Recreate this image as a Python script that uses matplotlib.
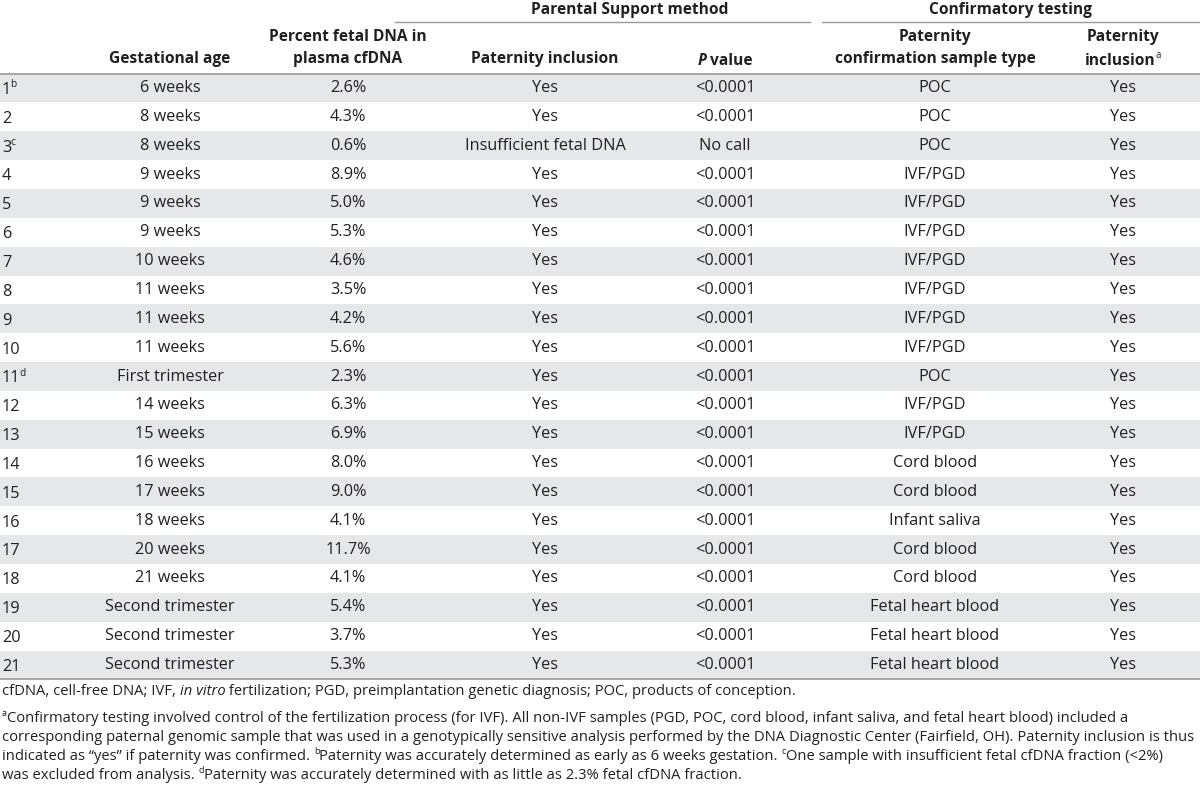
import matplotlib
matplotlib.use("Agg")
import matplotlib.pyplot as plt
from matplotlib.patches import Rectangle

plt.rcParams['font.family'] = ['Open Sans', 'DejaVu Sans']

case_ids = ["1", "2", "3", "4", "5", "6", "7", "8", "9", "10", "11", "12", "13", "14",
            "15", "16", "17", "18", "19", "20", "21"]
case_sup = {"1": "b", "3": "c", "11": "d"}
gest_age = ["6 weeks", "8 weeks", "8 weeks", "9 weeks", "9 weeks", "9 weeks", "10 weeks",
            "11 weeks", "11 weeks", "11 weeks", "First trimester", "14 weeks", "15 weeks",
            "16 weeks", "17 weeks", "18 weeks", "20 weeks", "21 weeks", "Second trimester",
            "Second trimester", "Second trimester"]
fetal_pct = [2.6, 4.3, 0.6, 8.9, 5.0, 5.3, 4.6, 3.5, 4.2, 5.6, 2.3, 6.3, 6.9, 8.0, 9.0,
             4.1, 11.7, 4.1, 5.4, 3.7, 5.3]
ps_inclusion = ["Yes", "Yes", "Insufficient fetal DNA"] + ["Yes"] * 18
p_values = ["<0.0001", "<0.0001", "No call"] + ["<0.0001"] * 18
sample_type = ["POC", "POC", "POC", "IVF/PGD", "IVF/PGD", "IVF/PGD", "IVF/PGD", "IVF/PGD",
               "IVF/PGD", "IVF/PGD", "POC", "IVF/PGD", "IVF/PGD", "Cord blood", "Cord blood",
               "Infant saliva", "Cord blood", "Cord blood", "Fetal heart blood",
               "Fetal heart blood", "Fetal heart blood"]
conf_inclusion = ["Yes"] * 21

W, H = 1200, 789
fig = plt.figure(figsize=(W / 100, H / 100), dpi=100)
ax = fig.add_axes([0, 0, 1, 1])
ax.set_xlim(0, W)
ax.set_ylim(H, 0)
ax.axis('off')
renderer = fig.canvas.get_renderer()

FS = 11.7
HFS = 11.2
FFS = 10.6
txt = '#231f20'
shade = '#e6e7e8'
linec = '#9a9a9a'
PX = 100 / 72.0


def ink_width(s, **kw):
    t = ax.text(0, 0, s, **kw)
    w = t.get_window_extent(renderer).width
    t.remove()
    return w


def measure(s, **kw):
    return ink_width(s + "|", **kw) - ink_width("|", **kw)


def pieces_text(x, y, pieces, fs, ha='left', weight='normal'):
    """pieces: list of (string, kind) with kind in 'n', 'i', 'sup'."""
    specs = []
    for k, (s, kind) in enumerate(pieces):
        kw = dict(color=txt, va='baseline', ha='left', fontweight=weight)
        dyy = 0.0
        if kind == 'sup':
            kw['fontsize'] = fs * 0.62
            kw['fontweight'] = 'normal'
            dyy = -fs * 0.42 * PX
        else:
            kw['fontsize'] = fs
            if kind == 'i':
                kw['fontstyle'] = 'italic'
        w = measure(s, **kw)
        nxt_sup = k + 1 < len(pieces) and pieces[k + 1][1] == 'sup'
        if nxt_sup and s[-1].isdigit():
            w -= 0.07 * fs * PX
        specs.append((s, kw, dyy, w))
    total = sum(sp[3] for sp in specs)
    cx = x - total / 2 if ha == 'center' else x
    for s, kw, dyy, w in specs:
        ax.text(cx, y + dyy, s, **kw)
        cx += w


row0 = 88.0
dy = 28.85
n = len(case_ids)
base_off = FS * PX * 0.36  # baseline offset from row center

for i in range(n):
    yc = row0 + i * dy
    if i % 2 == 0:
        ax.add_patch(Rectangle((0, yc - dy / 2), W, dy, color=shade, lw=0, zorder=0))

ax.plot([0, W], [row0 - dy / 2, row0 - dy / 2], color=linec, lw=1.2)
ax.plot([0, W], [row0 + (n - 0.5) * dy, row0 + (n - 0.5) * dy], color=linec, lw=1.2)
ax.plot([395, 810], [22, 22], color=linec, lw=1.0)
ax.plot([822, W], [22, 22], color=linec, lw=1.0)

hk = dict(fontsize=HFS, fontweight='bold', color=txt, ha='center', va='center')
ax.text(630, 10, "Parental Support method", **hk)
ax.text(1010, 10, "Confirmatory testing", **hk)
ax.text(170, 59, "Gestational age", **hk)
ax.text(348, 37, "Percent fetal DNA in", **hk)
ax.text(348, 59, "plasma cfDNA", **hk)
ax.text(545, 59, "Paternity inclusion", **hk)
ax.text(935, 37, "Paternity", **hk)
ax.text(935, 59, "confirmation sample type", **hk)
ax.text(1123, 37, "Paternity", **hk)
hb = 59 + HFS * PX * 0.36
pieces_text(725, hb, [("P", 'i'), (" value", 'n')], HFS, ha='center', weight='bold')
pieces_text(1123, hb, [("inclusion", 'n'), ("a", 'sup')], HFS, ha='center', weight='bold')

ck = dict(fontsize=FS, color=txt, va='center')
for i in range(n):
    yc = row0 + i * dy
    cid = case_ids[i]
    pcs = [(cid, 'n')]
    if cid in case_sup:
        pcs.append((case_sup[cid], 'sup'))
    pieces_text(2, yc + base_off, pcs, FS)
    ax.text(170, yc, gest_age[i], ha='center', **ck)
    ax.text(348, yc, "%.1f%%" % fetal_pct[i], ha='center', **ck)
    ax.text(545, yc, ps_inclusion[i], ha='center', **ck)
    ax.text(725, yc, p_values[i], ha='center', **ck)
    ax.text(935, yc, sample_type[i], ha='center', **ck)
    ax.text(1123, yc, conf_inclusion[i], ha='center', **ck)

fb = FFS * PX * 0.36
pieces_text(2, 690 + fb, [("cfDNA, cell-free DNA; IVF, ", 'n'), ("in vitro", 'i'),
                          (" fertilization; PGD, preimplantation genetic diagnosis; POC, products of conception.", 'n')], FFS)
foot = [
    [("a", 'sup'), ("Confirmatory testing involved control of the fertilization process (for IVF). All non-IVF samples (PGD, POC, cord blood, infant saliva, and fetal heart blood) included a", 'n')],
    [("corresponding paternal genomic sample that was used in a genotypically sensitive analysis performed by the DNA Diagnostic Center (Fairfield, OH). Paternity inclusion is thus", 'n')],
    [("indicated as \u201cyes\u201d if paternity was confirmed. ", 'n'), ("b", 'sup'),
     ("Paternity was accurately determined as early as 6 weeks gestation. ", 'n'), ("c", 'sup'),
     ("One sample with insufficient fetal cfDNA fraction (<2%)", 'n')],
    [("was excluded from analysis. ", 'n'), ("d", 'sup'),
     ("Paternity was accurately determined with as little as 2.3% fetal cfDNA fraction.", 'n')],
]
for j, line in enumerate(foot):
    pieces_text(2, 717 + j * 19 + fb, line, FFS)

fig.savefig("out.png", dpi=100)
